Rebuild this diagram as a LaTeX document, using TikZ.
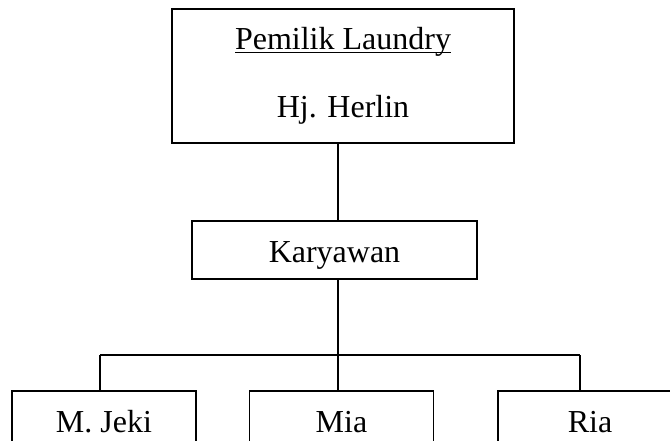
\documentclass[tikz,border=0pt]{standalone}
\usepackage{fontspec}
\setmainfont{Liberation Serif}
\newcommand{\ulword}[1]{\setbox0=\hbox{#1}\rlap{\rule[-3.5pt]{\wd0}{1.4pt}}\box0}
\begin{document}
\begin{tikzpicture}[x=1pt,y=-1pt,line width=1.7pt,
  unit/.style={draw, inner sep=0pt, font=\fontsize{32}{68}\selectfont},
  staff/.style={unit, text height=22pt, text depth=7pt}]
		% % Frame
		 	\useasboundingbox (0,0) rectangle (670,441);
		 	\clip (0,0) rectangle (670,441);
		% % Owner and employees
		 	\node[unit, minimum width=342pt, minimum height=134pt, align=center] (pemilik) at (343,76)
		 		{\ulword{Pemilik Laundry}\\Hj. Herlin};
		 	\node[staff, text height=24pt, text depth=0pt, minimum width=285pt, minimum height=58pt] (karyawan) at (334.5,250) {Karyawan};
		 	\foreach \x/\name/\label in {
  		 		104/jeki/M. Jeki,
  		 		341.5/mia/Mia,
  		 		590/ria/Ria
		 	}{
  		 		\node[staff, minimum width=184pt, minimum height=68pt] (\name) at (\x,425) {\label};
		 	}
		% % Connectors
		 	\coordinate (hub) at (338,355);
		 	\coordinate (barL) at (100,355);
		 	\coordinate (barR) at (580,355);
		 	\draw (pemilik.south -| hub) -- (karyawan.north -| hub);
		 	\draw (karyawan.south -| hub) -- (hub);
		 	\draw (barL) -- (barR);
		 	\draw (barL) -- (barL |- jeki.north);
		 	\draw (hub) -- (hub |- mia.north);
		 	\draw (barR) -- (barR |- ria.north);
\end{tikzpicture}
\end{document}
